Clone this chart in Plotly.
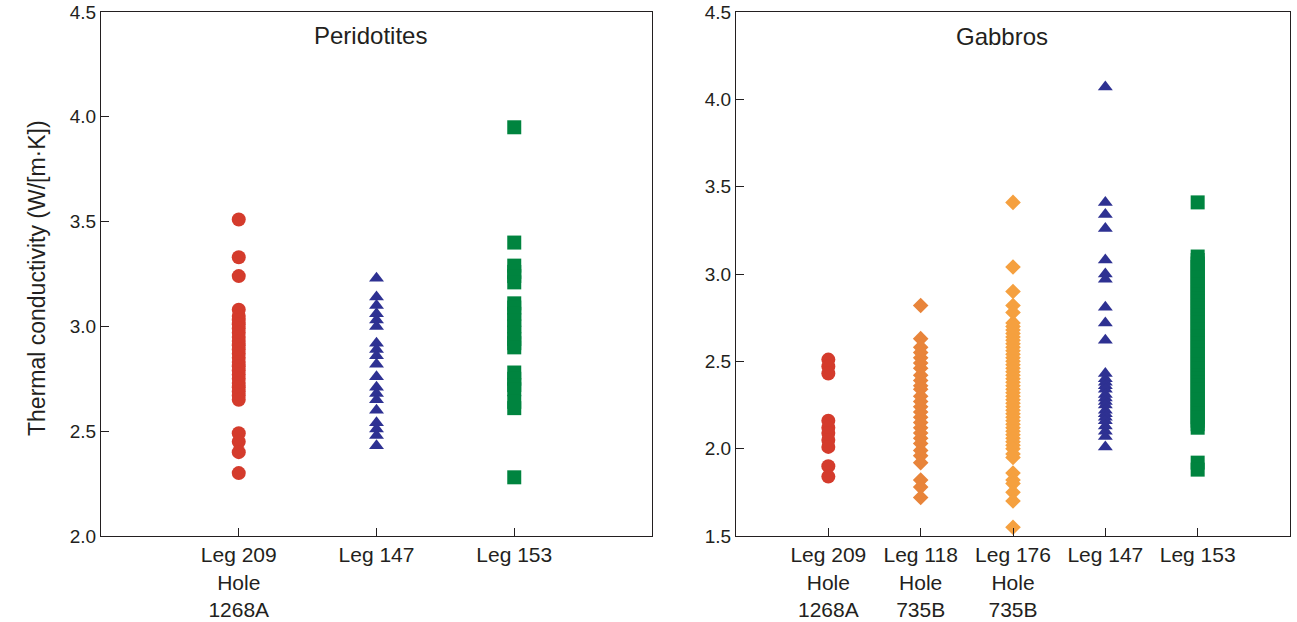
import plotly.graph_objects as go

# Category labels
peri_labels = ["Leg 209<br>Hole<br>1268A", "Leg 147", "Leg 153"]
gabbro_labels = ["Leg 209<br>Hole<br>1268A", "Leg 118<br>Hole<br>735B",
                 "Leg 176<br>Hole<br>735B", "Leg 147", "Leg 153"]

# Peridotites: thermal conductivity, W/(m K)
peri_leg209 = [3.51, 3.33, 3.24, 3.08, 3.05, 3.03, 3.01, 2.99, 2.97, 2.95, 2.93,
               2.91, 2.89, 2.87, 2.85, 2.83, 2.81, 2.79, 2.77, 2.75, 2.73, 2.71,
               2.69, 2.67, 2.65, 2.49, 2.45, 2.40, 2.30]
peri_leg147 = [3.23, 3.14, 3.10, 3.06, 3.03, 3.00, 2.92, 2.89, 2.86, 2.82, 2.76,
               2.71, 2.68, 2.65, 2.60, 2.54, 2.51, 2.48, 2.43]
peri_leg153 = [3.95, 3.40, 3.29, 3.26, 3.24, 3.21, 3.11, 3.09, 3.06, 3.03, 3.00,
               2.97, 2.94, 2.92, 2.90, 2.78, 2.75, 2.72, 2.70, 2.64, 2.61, 2.28]

# Gabbros: thermal conductivity, W/(m K)
gab_leg209 = [2.51, 2.47, 2.43, 2.16, 2.12, 2.09, 2.05, 2.01, 1.90, 1.84]
gab_leg118 = [2.82, 2.63, 2.58, 2.55, 2.52, 2.49, 2.46, 2.42, 2.39, 2.36, 2.34,
              2.30, 2.27, 2.24, 2.21, 2.18, 2.15, 2.12, 2.09, 2.06, 2.03, 1.99,
              1.96, 1.92, 1.82, 1.78, 1.72]
gab_leg176 = [3.41, 3.04, 2.90, 2.82, 2.78, 2.72, 2.70, 2.68, 2.66, 2.64, 2.62,
              2.60, 2.58, 2.56, 2.54, 2.52, 2.50, 2.48, 2.46, 2.44, 2.42, 2.40,
              2.38, 2.36, 2.34, 2.32, 2.30, 2.28, 2.26, 2.24, 2.22, 2.20, 2.18,
              2.16, 2.14, 2.12, 2.10, 2.08, 2.06, 2.04, 2.02, 2.00, 1.97, 1.95,
              1.86, 1.82, 1.80, 1.75, 1.70, 1.55]
gab_leg147 = [4.07, 3.41, 3.34, 3.26, 3.08, 3.00, 2.97, 2.81, 2.72, 2.62, 2.43,
              2.40, 2.38, 2.36, 2.34, 2.31, 2.29, 2.27, 2.25, 2.22, 2.20, 2.18,
              2.16, 2.13, 2.10, 2.07, 2.01]
gab_leg153 = [3.41, 3.10, 3.08, 3.06, 3.04, 3.02, 3.00, 2.98, 2.96, 2.94, 2.92,
              2.90, 2.88, 2.86, 2.84, 2.82, 2.80, 2.78, 2.76, 2.74, 2.72, 2.70,
              2.68, 2.66, 2.64, 2.62, 2.60, 2.58, 2.56, 2.54, 2.52, 2.50, 2.48,
              2.46, 2.44, 2.42, 2.40, 2.38, 2.36, 2.34, 2.32, 2.30, 2.28, 2.26,
              2.24, 2.22, 2.20, 2.18, 2.16, 2.14, 2.12, 1.92, 1.88]

RED = "#D43B2C"
BLUE = "#2E3192"
GREEN = "#00843F"
ORANGE_DARK = "#E8843A"
ORANGE_LIGHT = "#F5A03F"
INK = "#231F20"

FONT = "Liberation Sans, Arial, sans-serif"
W, H = 1297, 622

fig = go.Figure()


def add_column(values, pos, color, symbol, size, xa, ya):
    fig.add_trace(go.Scatter(
        x=[pos] * len(values), y=values, mode="markers",
        marker=dict(color=color, symbol=symbol, size=size, line=dict(width=0)),
        xaxis=xa, yaxis=ya, showlegend=False, hoverinfo="y",
    ))


add_column(peri_leg209, 1, RED, "circle", 14, "x", "y")
add_column(peri_leg147, 2, BLUE, "triangle-up", 13, "x", "y")
add_column(peri_leg153, 3, GREEN, "square", 14, "x", "y")

add_column(gab_leg209, 1, RED, "circle", 14, "x2", "y2")
add_column(gab_leg118, 2, ORANGE_DARK, "diamond", 12, "x2", "y2")
add_column(gab_leg176, 3, ORANGE_LIGHT, "diamond", 12, "x2", "y2")
add_column(gab_leg147, 4, BLUE, "triangle-up", 13, "x2", "y2")
add_column(gab_leg153, 5, GREEN, "square", 14, "x2", "y2")

# pixel geometry of the two panels
left_x0, left_x1 = 101, 652
right_x0, right_x1 = 736, 1290
top_y, bot_y = 12, 536

axis_common = dict(
    showgrid=False, zeroline=False, showline=True, linecolor=INK,
    linewidth=1.2, mirror=True, ticks="inside", ticklen=8, tickwidth=1,
    tickcolor=INK, automargin=False,
)
yfont = dict(family=FONT, size=19, color=INK)
xfont = dict(family=FONT, size=21, color=INK)

fig.update_layout(
    width=W, height=H,
    margin=dict(l=0, r=0, t=0, b=0),
    paper_bgcolor="white", plot_bgcolor="white",
    xaxis=dict(domain=[left_x0 / W, left_x1 / W], range=[0, 4],
               tickmode="array", tickvals=[1, 2, 3], ticktext=peri_labels,
               tickfont=xfont, anchor="y", **axis_common),
    yaxis=dict(domain=[1 - bot_y / H, 1 - top_y / H], range=[2.0, 4.5],
               tickmode="array", tickvals=[2.0, 2.5, 3.0, 3.5, 4.0, 4.5],
               ticktext=["2.0", "2.5", "3.0", "3.5", "4.0", "4.5"],
               tickfont=yfont, anchor="x", **axis_common),
    xaxis2=dict(domain=[right_x0 / W, right_x1 / W], range=[0, 6],
                tickmode="array", tickvals=[1, 2, 3, 4, 5], ticktext=gabbro_labels,
                tickfont=xfont, anchor="y2", **axis_common),
    yaxis2=dict(domain=[1 - bot_y / H, 1 - top_y / H], range=[1.5, 4.5],
                tickmode="array", tickvals=[1.5, 2.0, 2.5, 3.0, 3.5, 4.0, 4.5],
                ticktext=["1.5", "2.0", "2.5", "3.0", "3.5", "4.0", "4.5"],
                tickfont=yfont, anchor="x2", **axis_common),
    annotations=[
        dict(text="Peridotites", x=1.96, y=4.39, xref="x", yref="y",
             showarrow=False, font=dict(family=FONT, size=24, color=INK)),
        dict(text="Gabbros", x=2.88, y=4.36, xref="x2", yref="y2",
             showarrow=False, font=dict(family=FONT, size=24, color=INK)),
        dict(text="Thermal conductivity (W/[m·K])", x=22 / W, y=1 - 278 / H,
             xref="paper", yref="paper", textangle=-90, showarrow=False,
             font=dict(family=FONT, size=23, color=INK)),
    ],
)

fig.write_html("out.html")
